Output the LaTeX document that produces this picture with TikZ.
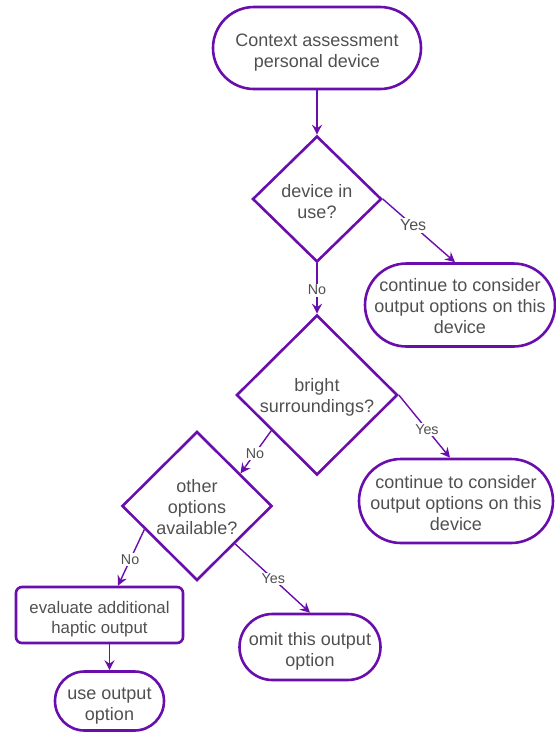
\documentclass[tikz,border=0pt]{standalone}
\usepackage{fontspec}
\setmainfont{Liberation Sans}
\usetikzlibrary{shapes.geometric,arrows.meta,calc}
\definecolor{pp}{HTML}{6A0DAD}
\definecolor{txt}{HTML}{505050}
% taller first line pushes a block of text a little lower in its shape
\newcommand\firstline[1]{\rule{0pt}{#1}}
\begin{document}
\begin{tikzpicture}[x=1pt,y=-1pt,
  every node/.style={text=txt},
  boxfont/.style={font=\fontsize{18}{21}\selectfont},
  term/.style={draw=pp,line width=2.6pt,rectangle,inner sep=0pt,align=center,boxfont,
    rounded corners=#1},
  decision/.style={draw=pp,line width=2.6pt,diamond,inner sep=0pt,align=center,boxfont},
  procbox/.style={draw=pp,line width=2.6pt,rectangle,rounded corners=6pt,inner sep=0pt,
    align=center,font=\fontsize{16.8}{20}\selectfont},
  arr/.style={draw=pp,line width=1.4pt,-{Stealth[length=10pt,width=10pt,inset=3.5pt]}},
  lbl/.style={fill=white,inner sep=1.5pt,font=\fontsize{14.3}{16}\selectfont}
]
\useasboundingbox (0,0) rectangle (556,732);

% nodes
\node[term=41pt,minimum width=208pt,minimum height=82pt] (start) at (317,48)
  {\firstline{21pt}Context assessment\\personal device};
\node[decision,minimum width=129pt,minimum height=126pt] (d1) at (317,199)
  {\firstline{18pt}device in\\use?};
\node[term=41.5pt,minimum width=190pt,minimum height=83pt] (cont1) at (460,305)
  {\firstline{16pt}continue to consider\\output options on this\\device};
\node[decision,minimum width=161pt,minimum height=160pt] (d2) at (317,395)
  {\firstline{18pt}bright\\surroundings?};
\node[term=42pt,minimum width=194pt,minimum height=84pt] (cont2) at (456,501)
  {\firstline{16.5pt}continue to consider\\output options on this\\device};
\node[decision,minimum width=150pt,minimum height=149pt] (d3) at (197,506)
  {\firstline{15pt}other\\options\\available?};
\node[procbox,minimum width=167pt,minimum height=56pt] (haptic) at (99.5,615)
  {\firstline{20pt}evaluate additional\\haptic output};
\node[term=33pt,minimum width=141pt,minimum height=66pt] (omit) at (310,647)
  {\firstline{22pt}omit this output\\option};
\node[term=29.5pt,minimum width=109pt,minimum height=59pt] (use) at (109.5,701)
  {\firstline{22pt}use output\\option};

% connectors
\draw[arr] (start.south) -- (d1.north);
\draw[arr] (d1.east) -- ([xshift=-5pt]cont1.north)
  node[lbl,pos=0.42,font=\fontsize{16}{18}\selectfont] {Yes};
\draw[arr] (d1.south) -- (d2.north) node[lbl,pos=0.53] {No};
\draw[arr] (d2.east) -- ([xshift=-6pt]cont2.north) node[lbl,pos=0.55] {Yes};
\draw[arr] ($(d2.west)!0.44!(d2.south)$) -- ($(d3.north)!0.57!(d3.east)$)
  node[lbl,pos=0.53] {No};
\draw[arr] ($(d3.west)!0.31!(d3.south)$) -- ([xshift=18.5pt]haptic.north)
  node[lbl,pos=0.54] {No};
\draw[arr] (d3.south east) -- (omit.north) node[lbl,pos=0.51] {Yes};
\draw[arr] ([xshift=10pt]haptic.south) -- (use.north);
\end{tikzpicture}
\end{document}
